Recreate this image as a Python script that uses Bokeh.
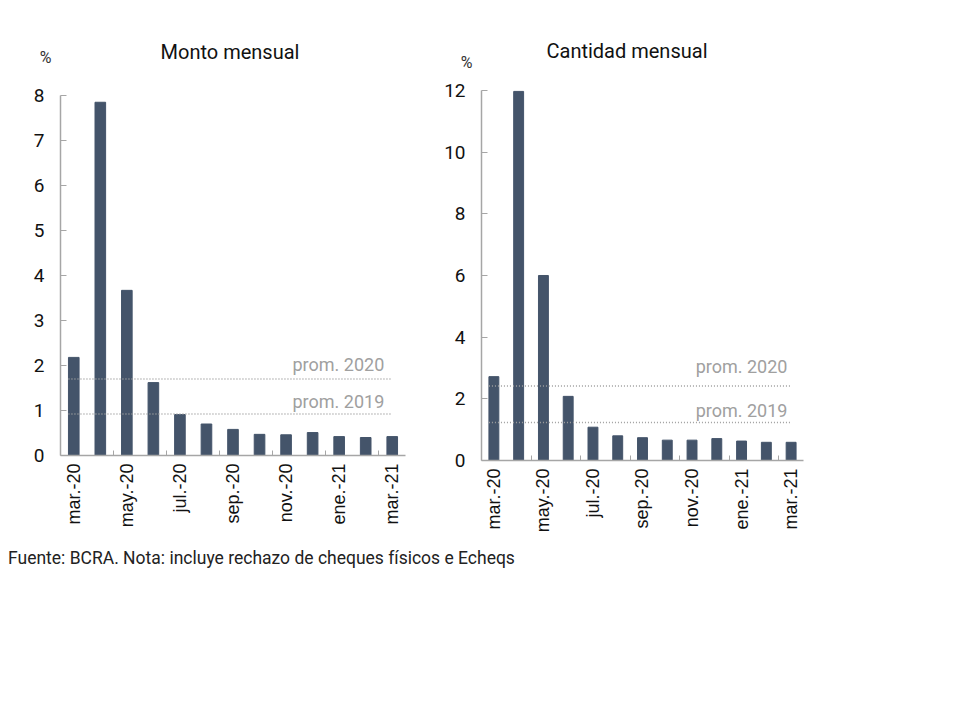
from bokeh.plotting import figure
from bokeh.layouts import row, column
from bokeh.models import (FixedTicker, CustomJSTickFormatter, Label, Div, Range1d,
                          LinearAxis)
from bokeh.embed import file_html
from bokeh.resources import INLINE

months = ["mar.-20", "abr.-20", "may.-20", "jun.-20", "jul.-20", "ago.-20", "sep.-20",
          "oct.-20", "nov.-20", "dic.-20", "ene.-21", "feb.-21", "mar.-21"]
monto = [2.18, 7.85, 3.67, 1.62, 0.91, 0.70, 0.58, 0.47, 0.46, 0.51, 0.42, 0.40, 0.42]
cantidad = [2.72, 11.97, 6.00, 2.08, 1.08, 0.80, 0.74, 0.66, 0.66, 0.71, 0.63, 0.59, 0.59]
monto_prom = {"prom. 2020": 1.70, "prom. 2019": 0.92}
cantidad_prom = {"prom. 2020": 2.42, "prom. 2019": 1.23}
monto_yticks = [0, 1, 2, 3, 4, 5, 6, 7, 8]
cantidad_yticks = [0, 2, 4, 6, 8, 10, 12]

BAR = "#44546A"
AXIS = "#a6a6a6"
FONT = "Roboto"
XFONT = "Liberation Sans"
BW = 0.4


def make(title, vals, prom, yticks, frame_w, frame_h, y_end, bl, bt, bb, br,
         title_pos, pct_y, pct_standoff, prom_x, prom_dy):
    n = len(vals)
    xs = list(range(n))
    p = figure(frame_width=frame_w, frame_height=frame_h,
               x_range=Range1d(-0.5, n - 0.5), y_range=Range1d(0, y_end),
               output_backend="svg", toolbar_location=None,
               min_border_left=bl, min_border_top=bt, min_border_bottom=bb,
               min_border_right=br)
    p.outline_line_color = None
    p.xgrid.visible = False
    p.ygrid.visible = False
    p.vbar(x=xs, top=vals, width=BW, color=BAR)
    for (lab, v), dy in zip(prom.items(), prom_dy):
        p.line(x=[xs[0] - BW / 2, xs[-1]], y=[v, v], line_color="#a0a0a0",
               line_width=1.5, line_dash="1 2")
        p.add_layout(Label(x=prom_x, y=v, text=lab, text_align="right",
                           text_baseline="middle", y_offset=dy,
                           text_font=FONT, text_font_size="18px",
                           text_color="#a0a0a0"))
    # title inside the (extended) frame
    p.add_layout(Label(x=title_pos[0], y=title_pos[1], text=title,
                       text_align="center", text_baseline="middle",
                       text_font=FONT, text_font_size="20px", text_color="#111111"))
    # x axis
    xa = p.xaxis[0]
    xa.ticker = FixedTicker(ticks=xs[::2],
                            minor_ticks=[i + 0.5 for i in xs[1:-1:2]])
    xa.formatter = CustomJSTickFormatter(args=dict(labels=months),
                                         code="return labels[Math.round(tick)];")
    xa.major_label_orientation = 3.14159 / 2
    xa.major_tick_in = 0
    xa.major_tick_out = 0
    xa.minor_tick_in = 5
    xa.minor_tick_out = 0
    xa.minor_tick_line_color = AXIS
    xa.axis_line_color = AXIS
    xa.axis_line_width = 1.5
    xa.major_label_text_font = XFONT
    xa.major_label_text_font_size = "18px"
    xa.major_label_text_color = "#111111"
    xa.major_label_standoff = 8
    # y axis
    ya = p.yaxis[0]
    ya.bounds = (yticks[0], yticks[-1])
    ya.ticker = FixedTicker(ticks=yticks, minor_ticks=[])
    ya.major_tick_in = 6
    ya.major_tick_out = 0
    ya.major_tick_line_color = AXIS
    ya.axis_line_color = AXIS
    ya.axis_line_width = 1.5
    ya.major_label_text_font = FONT
    ya.major_label_text_font_size = "19px"
    ya.major_label_text_color = "#111111"
    ya.major_label_standoff = 16
    # unit "%" as a second, line-less axis
    ua = LinearAxis(ticker=FixedTicker(ticks=[pct_y], minor_ticks=[]),
                    formatter=CustomJSTickFormatter(code="return '%';"))
    ua.axis_line_color = None
    ua.major_tick_line_color = None
    ua.minor_tick_line_color = None
    ua.major_label_text_font = FONT
    ua.major_label_text_font_size = "16px"
    ua.major_label_text_color = "#333333"
    ua.major_label_standoff = pct_standoff
    p.add_layout(ua, "left")
    return p


p1 = make("Monto mensual", monto, monto_prom, monto_yticks, 345, 417, 9.267,
          60, 38, 88, 15, (5.887, 8.956), 8.84, -27, 11.7, [15, 13])
p2 = make("Cantidad mensual", cantidad, cantidad_prom, cantidad_yticks, 322, 422, 13.686,
          61, 38, 83, 20, (5.374, 13.27), 12.91, -37, 11.85, [19, 12])

footer = Div(text="Fuente: BCRA. Nota: incluye rechazo de cheques físicos e Echeqs",
             width=700, height=22,
             styles={"font-family": FONT, "font-size": "17.5px", "color": "#222222",
                     "line-height": "20px", "margin-left": "8px"})

layout = column(row(p1, p2), footer)
open("out.html", "w").write(file_html(layout, INLINE))
